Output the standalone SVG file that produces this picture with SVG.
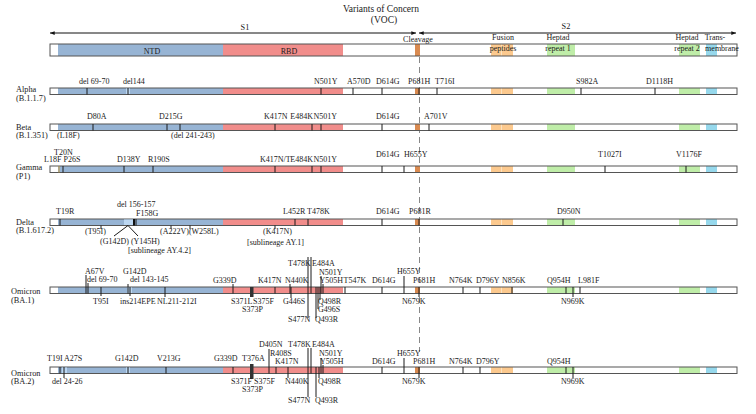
<svg xmlns="http://www.w3.org/2000/svg" width="756" height="414" viewBox="0 0 756 414">
<defs>
<style>
text{font-family:"Liberation Serif","Times New Roman",serif;font-size:8px;fill:#1a1a1a}
.hd{font-size:8px}
.rl{font-size:8.3px}
.ttl{font-size:9.5px}
.c{text-anchor:middle}
.e{text-anchor:end}
.tk{stroke:#1a1a1a;stroke-width:1}
.ntd{fill:#97b4d4}
.hl{fill:#bcd7f2}
.rbd{fill:#f18d8b}
.clv{fill:#d98a50}
.fp{fill:#fcc98e}
.hr{fill:#bfeda8}
.tm{fill:#96d8ec}
.out{fill:none;stroke:#555;stroke-width:1}
.arr{stroke:#111;stroke-width:1;fill:none}
.dash{stroke:#888;stroke-width:1;stroke-dasharray:6 4;fill:none}
</style>
<marker id="ah" viewBox="0 0 8 8" refX="7.5" refY="4" markerWidth="5" markerHeight="5" orient="auto-start-reverse"><path d="M0,1 L8,4 L0,7z" fill="#111"/></marker>
<g id="rowbar">
<rect x="50" y="0" width="687" height="6.5" fill="#fff"/>
<rect class="ntd" x="58" y="0" width="165" height="6.5"/>
<rect class="rbd" x="223" y="0" width="120" height="6.5"/>
<rect class="clv" x="415" y="0" width="5" height="6.5"/>
<rect class="fp" x="491" y="0" width="22" height="6.5"/>
<line x1="501.5" y1="0" x2="501.5" y2="6.5" stroke="#fde2bf"/>
<rect class="hr" x="547" y="0" width="28" height="6.5"/>
<rect class="hr" x="679" y="0" width="21" height="6.5"/>
<rect class="tm" x="706" y="0" width="11" height="6.5"/>
<rect class="out" x="50" y="0" width="687" height="6.5"/>
</g>
</defs>
<rect width="756" height="414" fill="#fff"/>

<g id="title">
<text class="ttl c" x="381" y="12">Variants of Concern</text>
<text class="ttl c" x="384" y="23">(VOC)</text>
</g>

<g id="header">
<rect x="50" y="44" width="687" height="12" fill="#fff"/>
<rect class="ntd" x="58" y="44" width="165" height="12"/>
<rect class="rbd" x="223" y="44" width="120" height="12"/>
<rect class="clv" x="415" y="44" width="5" height="12"/>
<rect class="fp" x="491" y="44" width="22" height="12"/>
<line x1="501.5" y1="44" x2="501.5" y2="56" stroke="#fde2bf"/>
<rect class="hr" x="547" y="44" width="28" height="12"/>
<rect class="hr" x="679" y="44" width="21" height="12"/>
<rect class="tm" x="706" y="44" width="11" height="12"/>
<rect class="out" x="50" y="44" width="687" height="12"/>
<text class="hd c" x="152" y="54">NTD</text>
<text class="hd c" x="289" y="54">RBD</text>
<text class="hd c" x="418" y="42">Cleavage</text>
<text class="hd c" x="503" y="40">Fusion</text>
<text class="hd c" x="503" y="51">peptides</text>
<text class="hd c" x="558" y="40">Heptad</text>
<text class="hd c" x="558" y="51">repeat 1</text>
<text class="hd c" x="687" y="40">Heptad</text>
<text class="hd c" x="687" y="51">repeat 2</text>
<text class="hd c" x="715" y="40">Trans-</text>
<text class="hd c" x="722" y="51">membrane</text>
<text class="rl c" x="245" y="30">S1</text>
<text class="rl c" x="566" y="29">S2</text>
</g>

<g id="connectors">
<line class="arr" x1="50" y1="33" x2="416" y2="33" marker-start="url(#ah)" marker-end="url(#ah)"/>
<line class="arr" x1="419" y1="33" x2="736" y2="33" marker-start="url(#ah)" marker-end="url(#ah)"/>
<line class="dash" x1="419.5" y1="57" x2="419.5" y2="352"/>
</g>

<g id="alpha">
<text class="rl" x="16" y="92">Alpha</text>
<text class="rl" x="16" y="101">(B.1.1.7)</text>
<use href="#rowbar" y="88"/>
<rect class="hl" x="126" y="88.5" width="4" height="5.5"/>
<path class="tk" d="M87,88V94.5M128,88V94.5M321,88V94.5M353,88V94.5M382,88V94.5M419,88V94.5M437,88V94.5M581,88V94.5M655,88V94.5"/>
<text x="79" y="84">del 69-70</text>
<text x="123" y="84">del144</text>
<text x="314" y="84">N501Y</text>
<text x="347" y="84">A570D</text>
<text x="376" y="84">D614G</text>
<text x="408" y="84">P681H</text>
<text x="435" y="84">T716I</text>
<text x="576" y="84">S982A</text>
<text x="646" y="84">D1118H</text>
</g>

<g id="beta">
<text class="rl" x="16" y="130">Beta</text>
<text class="rl" x="16" y="138">(B.1.351)</text>
<use href="#rowbar" y="124"/>
<path class="tk" d="M93,124V130.5M167,124V130.5M180,124V130.5M275,124V130.5M312,124V130.5M321,124V130.5M382,124V130.5M429,124V130.5"/>
<text x="87" y="119">D80A</text>
<text x="159" y="119">D215G</text>
<text x="264" y="119">K417N</text>
<text class="e" x="313" y="119">E484K</text>
<text x="313.5" y="119">N501Y</text>
<text x="376" y="119">D614G</text>
<text x="424" y="119">A701V</text>
<text x="57" y="138">(L18F)</text>
<text x="171" y="138">(del 241-243)</text>
</g>

<g id="gamma">
<text class="rl" x="16" y="170">Gamma</text>
<text class="rl" x="16" y="179">(P1)</text>
<use href="#rowbar" y="166"/>
<line x1="59" y1="166" x2="59" y2="172.5" stroke="#c89a3a" stroke-width="1"/>
<path class="tk" d="M63,166V172.5M124,166V172.5M153,166V172.5M275,166V172.5M312,166V172.5M321,166V172.5M382,166V172.5M404,166V172.5M605,166V172.5M686,166V172.5"/>
<text x="54" y="154.5">T20N</text>
<text x="44" y="162">L18F</text>
<text x="63.5" y="162">P26S</text>
<text x="117" y="162">D138Y</text>
<text x="148" y="162">R190S</text>
<text x="260" y="162">K417N/T</text>
<text class="e" x="313" y="162">E484K</text>
<text x="313.5" y="162">N501Y</text>
<text x="376" y="157">D614G</text>
<text x="404" y="157">H655Y</text>
<text x="598" y="157">T1027I</text>
<text x="676" y="157">V1176F</text>
</g>

<g id="delta">
<text class="rl" x="16" y="225">Delta</text>
<text class="rl" x="16" y="233">(B.1.617.2)</text>
<use href="#rowbar" y="219"/>
<rect class="hl" x="124" y="219.5" width="9" height="5.5"/>
<path class="tk" d="M60,219V225.5M136,219V225.5M295,219V225.5M308,219V225.5M382,219V225.5M419,219V225.5M563,219V225.5"/>
<line x1="134" y1="219" x2="134" y2="225.5" stroke="#111" stroke-width="2"/>
<path class="tk" d="M101,225.5V229M171,225.5V229M190,225.5V229M275,225.5V229M128,225.5L114,236M128,225.5L138,236"/>
<text x="56" y="214">T19R</text>
<text x="117" y="206.5">del 156-157</text>
<text x="136" y="216">F158G</text>
<text x="283" y="214">L452R</text>
<text x="307" y="214">T478K</text>
<text x="376" y="214">D614G</text>
<text x="409" y="214">P681R</text>
<text x="557" y="214">D950N</text>
<text x="85" y="234">(T95I)</text>
<text x="160" y="234">(A222V)(W258L)</text>
<text x="263" y="234">(K417N)</text>
<text x="100" y="244">(G142D) (Y145H)</text>
<text x="247" y="245">[sublineage AY.1]</text>
<text x="128" y="253">[sublineage AY.4.2]</text>
</g>

<g id="omicron-ba1">
<text class="rl" x="11" y="294">Omicron</text>
<text class="rl" x="11" y="303">(BA.1)</text>
<use href="#rowbar" y="287"/>
<rect class="hl" x="127" y="287.5" width="5" height="5.5"/>
<rect x="250" y="287" width="3.5" height="10" fill="#333"/>
<path class="tk" d="M86,275V293.5M88,283V293.5M128,284V293.5M130,287V296M101,287V296M165,287V297M233,284V293.5M275,287V293.5M290,284V293.5M291,287V298M308,257V318M311,257V293.5M316,287V318M318,287V309M320,287V300M321,276V293.5M323,284V293.5M345,287V293.5M382,287V293.5M404,276V293.5M419,287V297M463,287V293.5M480,287V293.5M512,287V293.5M566,287V293.5M573,287V297M580,287V293.5"/>
<text x="85" y="274">A67V</text>
<text x="87" y="282">del 69-70</text>
<text x="123" y="274">G142D</text>
<text x="130" y="282">del 143-145</text>
<text x="213" y="283">G339D</text>
<text x="258" y="283">K417N</text>
<text x="285" y="283">N440K</text>
<text x="288" y="266">T478K</text>
<text x="312" y="266">E484A</text>
<text x="319" y="275">N501Y</text>
<text x="319.5" y="283">Y505H</text>
<text x="343.5" y="283">T547K</text>
<text x="372" y="283">D614G</text>
<text x="397" y="274">H655Y</text>
<text x="413" y="283">P681H</text>
<text x="449" y="283">N764K</text>
<text x="476" y="283">D796Y</text>
<text x="502" y="283">N856K</text>
<text x="547" y="283">Q954H</text>
<text x="578" y="283">L981F</text>
<text x="93" y="304">T95I</text>
<text x="120" y="304">ins214EPE</text>
<text x="157" y="304">NL211-212I</text>
<text x="231" y="304">S371L</text>
<text x="253" y="304">S375F</text>
<text x="242" y="312">S373P</text>
<text x="283" y="304">G446S</text>
<text x="318" y="304">Q498R</text>
<text x="318" y="312">G496S</text>
<text x="288" y="322">S477N</text>
<text x="315" y="322">Q493R</text>
<text x="402" y="304">N679K</text>
<text x="561" y="304">N969K</text>
</g>

<g id="omicron-ba2">
<text class="rl" x="11" y="376">Omicron</text>
<text class="rl" x="11" y="384">(BA.2)</text>
<use href="#rowbar" y="367"/>
<rect class="hl" x="62" y="367.5" width="5" height="5.5"/>
<rect class="hl" x="126" y="367.5" width="4" height="5.5"/>
<rect x="250" y="364" width="3.5" height="15" fill="#333"/>
<path class="tk" d="M60,367V373.5M64,367V378M128,367V373.5M166,367V373.5M233,367V373.5M269,349V373.5M276,367V373.5M288,367V378M308,348V397M311,348V373.5M316,367V397M319,367V378M321,358V373.5M323,365V373.5M382,367V373.5M404,358V373.5M419,367V378M463,367V373.5M480,367V373.5M566,367V373.5M573,367V378"/>
<text x="47" y="361">T19I</text>
<text x="64" y="361">A27S</text>
<text x="115" y="361">G142D</text>
<text x="157" y="361">V213G</text>
<text x="214" y="361">G339D</text>
<text x="242" y="361">T376A</text>
<text x="259" y="347">D405N</text>
<text x="270" y="356">R408S</text>
<text x="275" y="364">K417N</text>
<text x="288" y="347">T478K</text>
<text x="312" y="347">E484A</text>
<text x="319" y="356">N501Y</text>
<text x="320" y="364">Y505H</text>
<text x="372" y="364">D614G</text>
<text x="397" y="356">H655Y</text>
<text x="413" y="364">P681H</text>
<text x="449" y="364">N764K</text>
<text x="476" y="364">D796Y</text>
<text x="547" y="364">Q954H</text>
<text x="52" y="384">del 24-26</text>
<text x="231" y="384">S371F</text>
<text x="254" y="384">S375F</text>
<text x="242" y="392">S373P</text>
<text x="285" y="384">N440K</text>
<text x="318" y="384">Q498R</text>
<text x="288" y="403">S477N</text>
<text x="315" y="403">Q493R</text>
<text x="402" y="384">N679K</text>
<text x="561" y="384">N969K</text>
</g>
</svg>
